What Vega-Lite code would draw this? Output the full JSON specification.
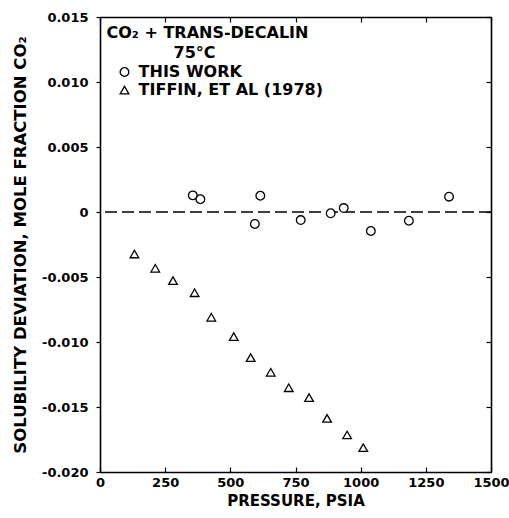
{
  "$schema": "https://vega.github.io/schema/vega-lite/v6.json",
  "width": 391,
  "height": 455,
  "autosize": "none",
  "padding": {"left": 100, "top": 17, "right": 18, "bottom": 46},
  "background": "white",
  "config": {
    "view": {"stroke": null},
    "font": "DejaVu Sans",
    "axis": {
      "grid": false,
      "domainColor": "black",
      "domainWidth": 1.6,
      "tickColor": "black",
      "tickWidth": 1.2,
      "labelColor": "black",
      "labelFont": "DejaVu Sans",
      "labelFontWeight": "bold",
      "labelFontSize": 13,
      "titleColor": "black",
      "titleFont": "DejaVu Sans",
      "titleFontWeight": "bold"
    }
  },
  "datasets": {
    "obs": [
      {"pressure": 356, "deviation": 0.00128, "series": "THIS WORK"},
      {"pressure": 385, "deviation": 0.00098, "series": "THIS WORK"},
      {"pressure": 594, "deviation": -0.00092, "series": "THIS WORK"},
      {"pressure": 615, "deviation": 0.00125, "series": "THIS WORK"},
      {"pressure": 770, "deviation": -0.00062, "series": "THIS WORK"},
      {"pressure": 885, "deviation": -0.0001, "series": "THIS WORK"},
      {"pressure": 935, "deviation": 0.0003, "series": "THIS WORK"},
      {"pressure": 1039, "deviation": -0.00146, "series": "THIS WORK"},
      {"pressure": 1185, "deviation": -0.00067, "series": "THIS WORK"},
      {"pressure": 1339, "deviation": 0.00118, "series": "THIS WORK"},
      {"pressure": 132, "deviation": -0.00323, "series": "TIFFIN, ET AL (1978)"},
      {"pressure": 212, "deviation": -0.00433, "series": "TIFFIN, ET AL (1978)"},
      {"pressure": 280, "deviation": -0.00528, "series": "TIFFIN, ET AL (1978)"},
      {"pressure": 363, "deviation": -0.00621, "series": "TIFFIN, ET AL (1978)"},
      {"pressure": 427, "deviation": -0.0081, "series": "TIFFIN, ET AL (1978)"},
      {"pressure": 513, "deviation": -0.00959, "series": "TIFFIN, ET AL (1978)"},
      {"pressure": 578, "deviation": -0.0112, "series": "TIFFIN, ET AL (1978)"},
      {"pressure": 655, "deviation": -0.01233, "series": "TIFFIN, ET AL (1978)"},
      {"pressure": 724, "deviation": -0.01352, "series": "TIFFIN, ET AL (1978)"},
      {"pressure": 802, "deviation": -0.01428, "series": "TIFFIN, ET AL (1978)"},
      {"pressure": 871, "deviation": -0.01587, "series": "TIFFIN, ET AL (1978)"},
      {"pressure": 948, "deviation": -0.01715, "series": "TIFFIN, ET AL (1978)"},
      {"pressure": 1010, "deviation": -0.01813, "series": "TIFFIN, ET AL (1978)"}
    ],
    "keys": [
      {"pressure": 94, "deviation": 0.01077, "series": "THIS WORK"},
      {"pressure": 94, "deviation": 0.00938, "series": "TIFFIN, ET AL (1978)"}
    ],
    "notes": [
      {"pressure": 25, "deviation": 0.01377, "label": "CO₂ + TRANS-DECALIN"},
      {"pressure": 282, "deviation": 0.01223, "label": "75°C"},
      {"pressure": 148, "deviation": 0.01077, "label": "THIS WORK"},
      {"pressure": 148, "deviation": 0.00938, "label": "TIFFIN, ET AL (1978)"}
    ],
    "zero": [{"deviation": 0}]
  },
  "layer": [
    {
      "data": {"name": "zero"},
      "mark": {"type": "rule", "color": "black", "strokeWidth": 1.5, "strokeDash": [12, 5]},
      "encoding": {
        "y": {"field": "deviation", "type": "quantitative", "scale": {"domain": [-0.02, 0.015], "nice": false, "zero": false}, "axis": null}
      }
    },
    {
      "data": {"name": "obs"},
      "mark": {"type": "point", "filled": false, "fill": "white", "fillOpacity": 1, "color": "black", "strokeWidth": 1.3, "size": 75, "opacity": 1},
      "encoding": {
        "x": {
          "field": "pressure", "type": "quantitative",
          "scale": {"domain": [0, 1500], "nice": false, "zero": false},
          "axis": {"orient": "bottom", "values": [0, 250, 500, 750, 1000, 1250, 1500], "format": "d", "tickSize": -5, "labelPadding": 9, "labelFlush": false, "title": "PRESSURE, PSIA", "titleFontSize": 15, "titlePadding": 4}
        },
        "y": {
          "field": "deviation", "type": "quantitative",
          "scale": {"domain": [-0.02, 0.015], "nice": false, "zero": false},
          "axis": {"orient": "left", "values": [-0.02, -0.015, -0.01, -0.005, 0, 0.005, 0.01, 0.015], "tickSize": 4, "labelPadding": 8, "labelFlush": false, "labelExpr": "datum.value == 0 ? '0' : replace(format(datum.value, '.3f'), '−', '-')", "title": "SOLUBILITY DEVIATION, MOLE FRACTION CO₂", "titleFontSize": 16.5, "titlePadding": 13}
        },
        "shape": {"field": "series", "type": "nominal", "scale": {"domain": ["THIS WORK", "TIFFIN, ET AL (1978)"], "range": ["circle", "triangle-up"]}, "legend": null}
      }
    },
    {
      "data": {"name": "keys"},
      "mark": {"type": "point", "filled": false, "fill": "white", "fillOpacity": 1, "color": "black", "strokeWidth": 1.3, "size": 75, "opacity": 1},
      "encoding": {
        "x": {"field": "pressure", "type": "quantitative", "scale": {"domain": [0, 1500], "nice": false, "zero": false}, "axis": null},
        "y": {"field": "deviation", "type": "quantitative", "scale": {"domain": [-0.02, 0.015], "nice": false, "zero": false}, "axis": null},
        "shape": {"field": "series", "type": "nominal", "legend": null}
      }
    },
    {
      "data": {"name": "notes"},
      "mark": {"type": "text", "align": "left", "baseline": "middle", "font": "DejaVu Sans", "fontWeight": "bold", "fontSize": 16, "color": "black"},
      "encoding": {
        "x": {"field": "pressure", "type": "quantitative", "scale": {"domain": [0, 1500], "nice": false, "zero": false}, "axis": null},
        "y": {"field": "deviation", "type": "quantitative", "scale": {"domain": [-0.02, 0.015], "nice": false, "zero": false}, "axis": null},
        "text": {"field": "label", "type": "nominal"}
      }
    },
    {
      "data": {"name": "zero"},
      "mark": {"type": "point", "opacity": 0},
      "encoding": {
        "x": {"datum": 0, "type": "quantitative", "scale": {"domain": [0, 1500], "nice": false, "zero": false}, "axis": {"orient": "top", "values": [0, 250, 500, 750, 1000, 1250, 1500], "tickSize": -5, "labels": false, "title": null}},
        "y": {"field": "deviation", "type": "quantitative", "scale": {"domain": [-0.02, 0.015], "nice": false, "zero": false}, "axis": {"orient": "right", "values": [-0.02, -0.015, -0.01, -0.005, 0, 0.005, 0.01, 0.015], "tickSize": -5, "labels": false, "title": null}}
      }
    }
  ],
  "resolve": {"axis": {"x": "independent", "y": "independent"}}
}
